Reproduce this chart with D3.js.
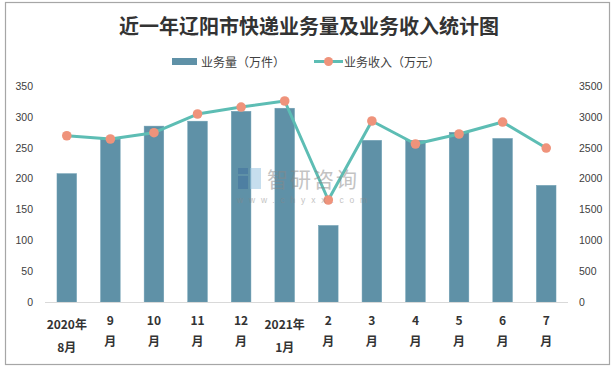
<!DOCTYPE html>
<html><head><meta charset="utf-8">
<script src="https://cdn.jsdelivr.net/npm/d3@7/dist/d3.min.js"></script>
<style>html,body{margin:0;padding:0;background:#fff;}</style>
</head><body><svg id="c" width="615" height="369"></svg>
<script>
const categories = [["2020年","8月"],["9","月"],["10","月"],["11","月"],["12","月"],["2021年","1月"],["2","月"],["3","月"],["4","月"],["5","月"],["6","月"],["7","月"]];
const volume = [208, 264, 285, 293, 309, 314, 124, 262, 262, 275, 265, 189];
const revenue = [2694, 2641, 2743, 3046, 3159, 3257, 1653, 2933, 2560, 2722, 2916, 2495];
const leftTicks = [0, 50, 100, 150, 200, 250, 300, 350];
const rightTicks = [0, 500, 1000, 1500, 2000, 2500, 3000, 3500];

const svg = d3.select("#c");
const font = "'Liberation Sans','Noto Sans CJK SC',sans-serif";
const cjk = "'Noto Sans CJK SC','Liberation Sans',sans-serif";
const txt = "#404040";

svg.append("rect").attr("x",5.5).attr("y",2.5).attr("width",604).attr("height",362)
  .attr("fill","#fff").attr("stroke","#a6a6a6").attr("stroke-width",1.2);

const x = d3.scaleBand().domain(d3.range(categories.length)).range([45,568]).paddingInner(0.55).paddingOuter(0.275);
const yL = d3.scaleLinear().domain([0,350]).range([302,86]);
const yR = d3.scaleLinear().domain([0,3500]).range([302,86]);

// title
svg.append("text").attr("x",309).attr("y",25).attr("text-anchor","middle").attr("dominant-baseline","central")
  .attr("font-family","'Noto Sans CJK SC',sans-serif").attr("font-weight","bold").attr("font-size",20)
  .attr("fill","#333").text("近一年辽阳市快递业务量及业务收入统计图");

// legend
svg.append("rect").attr("x",172).attr("y",58).attr("width",25).attr("height",7).attr("fill","#5f91a7");
svg.append("text").attr("x",201).attr("y",61.5).attr("dominant-baseline","central").attr("font-family",cjk)
  .attr("font-size",12).attr("fill",txt).text("业务量（万件）");
svg.append("line").attr("x1",314).attr("x2",343).attr("y1",61.5).attr("y2",61.5).attr("stroke","#5dbdb4").attr("stroke-width",3);
svg.append("circle").attr("cx",328.5).attr("cy",61.5).attr("r",4.5).attr("fill","#ef937b");
svg.append("text").attr("x",344).attr("y",61.5).attr("dominant-baseline","central").attr("font-family",cjk)
  .attr("font-size",12).attr("fill",txt).text("业务收入（万元）");

// left axis
const gL = svg.append("g").attr("transform","translate(33,0)")
  .call(d3.axisLeft(yL).tickValues(leftTicks).tickSize(0).tickPadding(0).tickFormat(d3.format("d")));
gL.select(".domain").remove();
gL.selectAll("text").attr("font-family",font).attr("font-size",10.5).attr("fill",txt);
// right axis
const gR = svg.append("g").attr("transform","translate(579,0)")
  .call(d3.axisRight(yR).tickValues(rightTicks).tickSize(0).tickPadding(0).tickFormat(d3.format("d")));
gR.select(".domain").remove();
gR.selectAll("text").attr("font-family",font).attr("font-size",10.5).attr("fill",txt);

// bars
svg.append("g").selectAll("rect").data(volume).join("rect")
  .attr("x",(d,i)=>x(i)).attr("width",x.bandwidth())
  .attr("y",d=>yL(d)).attr("height",d=>yL(0)-yL(d))
  .attr("fill","#5f91a7").attr("stroke","#6f9fb3").attr("stroke-width",0.5);

// baseline
svg.append("line").attr("x1",45).attr("x2",568).attr("y1",302.5).attr("y2",302.5).attr("stroke","#d9d9d9").attr("stroke-width",1);

// line
const cx = i => x(i) + x.bandwidth()/2;
svg.append("path").datum(revenue)
  .attr("d", d3.line().x((d,i)=>cx(i)).y(d=>yR(d)))
  .attr("fill","none").attr("stroke","#5dbdb4").attr("stroke-width",3).attr("stroke-linejoin","round");
svg.append("g").selectAll("circle").data(revenue).join("circle")
  .attr("cx",(d,i)=>cx(i)).attr("cy",d=>yR(d)).attr("r",4.8).attr("fill","#ef937b");

// watermark (on top)
const wm = svg.append("g").attr("opacity",0.5);
wm.append("rect").attr("x",238).attr("y",168).attr("width",10).attr("height",6).attr("fill","#3f6f9f");
wm.append("rect").attr("x",238).attr("y",176).attr("width",10).attr("height",13).attr("fill","#3f6f9f");
wm.append("rect").attr("x",250).attr("y",168).attr("width",11).attr("height",21).attr("fill","#8fbfdf");
wm.append("text").attr("x",267).attr("y",178).attr("dominant-baseline","central").attr("font-family",cjk)
  .attr("font-size",21).attr("letter-spacing",2).attr("fill","#888").text("智研咨询");
wm.append("text").attr("x",237).attr("y",199.5).attr("dominant-baseline","central").attr("font-family",font)
  .attr("font-size",8.5).attr("letter-spacing",5.8).attr("fill","#888").text("www.chyxx.com");

// x labels
const gx = svg.append("g");
categories.forEach((c,i)=>{
  const two = c[0].length > 2;
  const t = gx.append("text").attr("text-anchor","middle").attr("font-family",cjk)
    .attr("font-weight","bold").attr("font-size",12).attr("fill","#333");
  t.append("tspan").attr("x",cx(i)).attr("y", two ? 328.5 : 324.5).text(c[0]);
  t.append("tspan").attr("x",cx(i)).attr("y", two ? 351.5 : 345.5).text(c[1]);
});
</script></body></html>
